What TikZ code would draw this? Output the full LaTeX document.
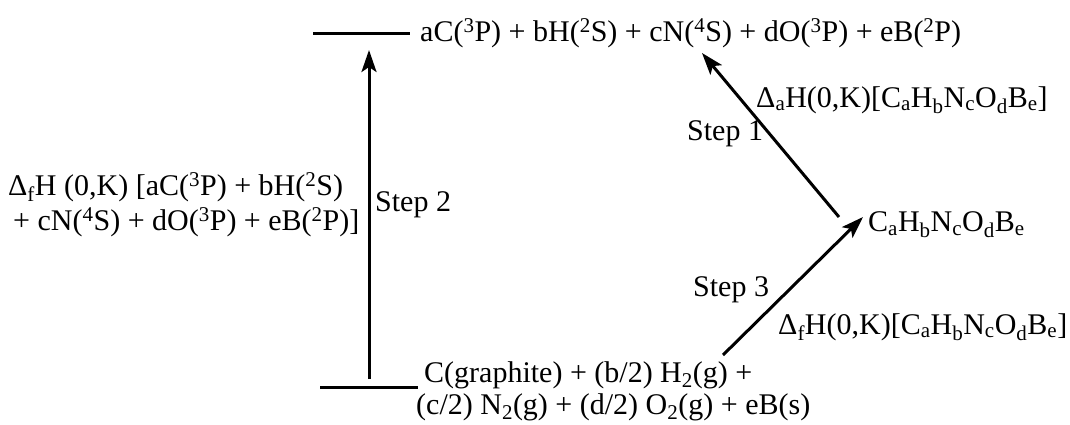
\documentclass[tikz,border=0pt]{standalone}
\usepackage{fontspec}
\setmainfont{Liberation Serif}
\usetikzlibrary{arrows.meta}
\newcommand{\sps}[1]{\textsuperscript{#1}}
\newcommand{\sbs}[1]{\textsubscript{#1}}
\begin{document}
\begin{tikzpicture}[x=1pt,y=-1pt,
  lbl/.style={anchor=west,inner sep=0pt,font=\fontsize{30}{36}\selectfont},
  level/.style={line width=3pt},
  conn/.style={line width=3pt,-{Stealth[length=22pt,width=15pt,inset=5pt]}}]
\useasboundingbox (0,0) rectangle (1070,424);
% levels
\coordinate (t1) at (313,33);
\coordinate (t2) at (410,33);
\coordinate (b1) at (320,387);
\coordinate (b2) at (418,387);
\draw[level] (t1) -- (t2);
\draw[level] (b1) -- (b2);
% texts
\node[lbl] (top) at (420,33) {aC(\sps{3}P) + bH(\sps{2}S) + cN(\sps{4}S) + dO(\sps{3}P) + eB(\sps{2}P)};
\node[lbl] (bota) at (424,375) {C(graphite) + (b/2) H\sbs{2}(g) +};
\node[lbl] (botb) at (416,407) {(c/2) N\sbs{2}(g) + (d/2) O\sbs{2}(g) + eB(s)};
\node[lbl] (mol) at (868,225) {C\sbs{a}H\sbs{b}N\sbs{c}O\sbs{d}B\sbs{e}};
\node[lbl] (s2) at (375,205) {Step 2};
\node[lbl] (la) at (8,187) {Δ\sbs{f}H (0,K) [aC(\sps{3}P) + bH(\sps{2}S)};
\node[lbl] (lb) at (13,222) {+ cN(\sps{4}S) + dO(\sps{3}P) + eB(\sps{2}P)]};
\node[lbl] (s1) at (687,134) {Step 1};
\node[lbl] (d1) at (756,100) {Δ\sbs{a}H(0,K)[C\sbs{a}H\sbs{b}N\sbs{c}O\sbs{d}B\sbs{e}]};
\node[lbl] (s3) at (693,290) {Step 3};
\node[lbl] (d3) at (778,327) {Δ\sbs{f}H(0,K)[C\sbs{a}H\sbs{b}N\sbs{c}O\sbs{d}B\sbs{e}]};
% connectors
\coordinate (v0) at (369,379);
\coordinate (v1) at (369,50);
\coordinate (a0) at (839,217);
\coordinate (a1) at (702,53);
\coordinate (c0) at (723,355);
\coordinate (c1) at (863,217);
\draw[conn] (v0) -- (v1);
\draw[conn] (a0) -- (a1);
\draw[conn] (c0) -- (c1);
\end{tikzpicture}
\end{document}
